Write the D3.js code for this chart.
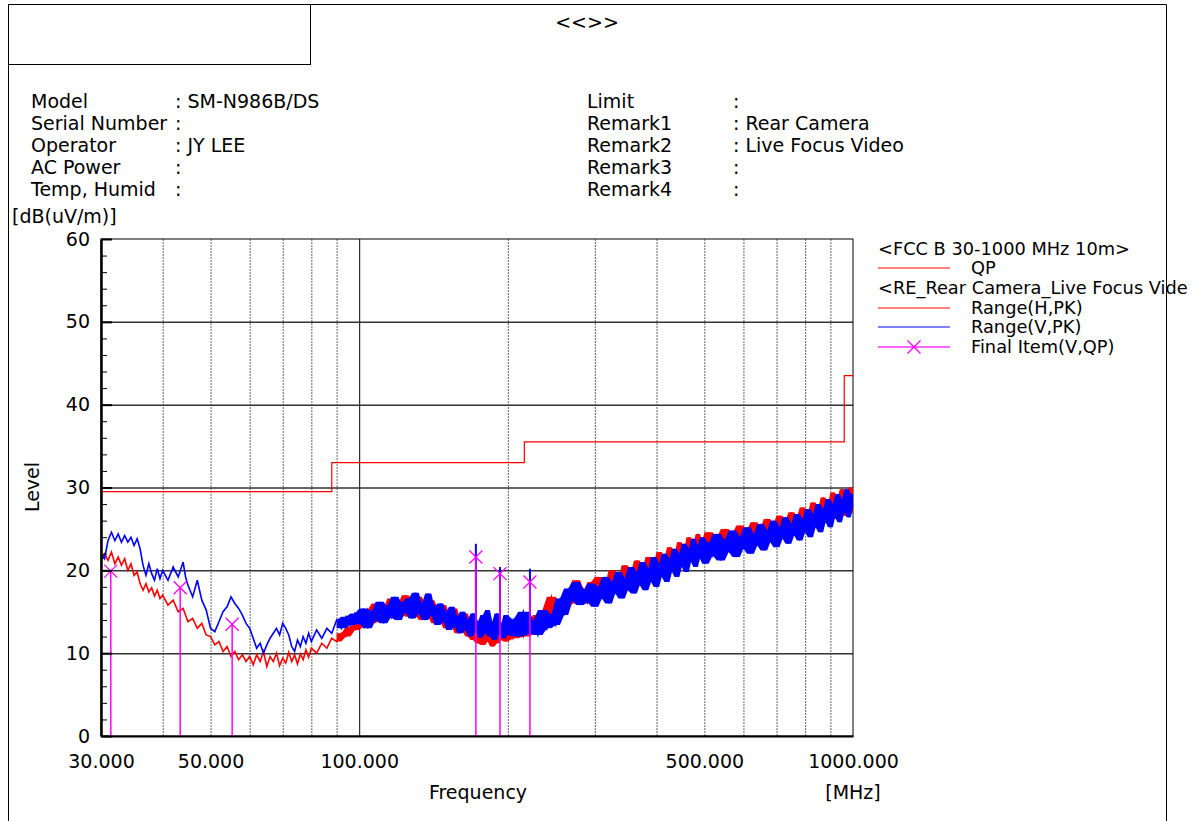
<!DOCTYPE html>
<html>
<head>
<meta charset="utf-8">
<script src="https://cdn.jsdelivr.net/npm/d3@7"></script>
<style>
  body { margin: 0; background: #fff; }
  text { font-family: "DejaVu Sans", sans-serif; fill: #000; }
</style>
</head>
<body>
<div id="chart"></div>
<script>
// ------------------------------------------------------
// Page and plot size
const width = 1204
const height = 821
const plot = { left: 101, right: 853, top: 239, bottom: 736 }

// ------------------------------------------------------
// Header info (left and right columns)
const infoLeftLabels = ['Model', 'Serial Number', 'Operator', 'AC Power', 'Temp, Humid']
const infoLeftValues = ['SM-N986B/DS', '', 'JY LEE', '', '']
const infoRightLabels = ['Limit', 'Remark1', 'Remark2', 'Remark3', 'Remark4']
const infoRightValues = ['', 'Rear Camera', 'Live Focus Video', '', '']

// Axis ticks
const yTicks = [0, 10, 20, 30, 40, 50, 60]
const yMinorTicks = [2, 4, 6, 8, 12, 14, 16, 18, 22, 24, 26, 28, 32, 34, 36, 38, 42, 44, 46, 48, 52, 54, 56, 58]
const xLabelTicks = [30, 50, 100, 500, 1000]
const xGridTicks = [40, 50, 60, 70, 80, 90, 200, 300, 400, 500, 600, 700, 800, 900]

// FCC B QP limit, [MHz, dB(uV/m)] step edges
const limitQP = [[30, 29.5], [88, 33], [216, 35.5], [960, 43.5], [1000, 43.5]]

// Final items (V, QP)
const finalFreq = [31.4, 43.4, 55.3, 172.3, 192.8, 221.7]
const finalLevel = [19.9, 17.9, 13.5, 21.6, 19.6, 18.6]

// Narrow peaks of the V trace at the final item frequencies
const spikesV = [[172.3, 23.2], [192.8, 20.4], [221.7, 20.2]]

// Range (H, PK) trace, [MHz, dB(uV/m)]
const traceH = [
  [30,21],[30.5,22],[31,21.2],[31.5,22.2],[32,20.8],[32.5,21.6],[33,20.6],[33.5,21.4],[34,20],[34.5,20.8],
  [35,19.4],[35.5,19.8],[36,18.4],[36.5,17.6],[37,18.4],[37.5,17.4],[38,17.9],[38.5,16.9],[39,17.6],[39.5,16.6],
  [40,17],[41,15.8],[42,16.4],[43,15],[44,15.4],[45,13.8],[46,14.2],[47,13],[48,13.6],[49,12.2],
  [50,12],[51,11],[52,11.4],[53,10.2],[54,10.8],[55,9.6],[56,10.2],[57,9.2],[58,9.8],[59,9],
  [60,9.6],[61,8.6],[62,9.8],[63,9],[64,10.2],[65,8.4],[66,9.6],[67,9],[68,10],[69,8.5],
  [70,9.4],[71,8.8],[72,10.1],[73,9],[74,9.8],[75,8.7],[76,9.9],[77,9.2],[78,10.4],[79,9.5],
  [80,10.6],[82,10],[84,11.2],[86,10.6],[88,11.8],[90,11.4],[92,12.4],[94,12],[96,13.2],[98,12.8],
  [100,14],[102,13.2],[104,15.2],[106,13.6],[108,16],[110,14],[112,15.4],[114,14.6],[116,16.6],[118,14.2],
  [120,16],[122,14.8],[124,17],[126,14.4],[128,16.2],[130,14.6],[132,16.8],[134,14],[136,15.8],[138,14.4],
  [140,16.4],[142,13.6],[144,15.4],[146,13.8],[148,15.8],[150,13],[152,14.8],[154,13.2],[156,15.4],[158,12.4],
  [160,14.2],[162,12.6],[164,14.8],[166,12],[168,13.8],[170,11.6],[172,13.6],[174,11.2],[176,13.2],[178,11],
  [180,13.8],[182,11.4],[184,13],[186,10.8],[188,13.4],[190,11.2],[192,13.6],[194,11.6],[196,13.2],[198,11.4],
  [200,13.8],[205,11.8],[210,13.4],[215,12],[222,14],[225,12.4],[230,14.6],[235,12.8],[240,15.2],[245,16.8],
  [250,14],[255,16],[260,14.8],[265,17.6],[270,16],[275,18.8],[280,16.4],[285,17.6],[290,16],[295,18.6],
  [300,16.4],[305,19.2],[310,16.8],[315,18.4],[320,17],[325,20],[330,17.2],[335,19],[340,17.6],[345,20.6],
  [350,17.8],[355,19.6],[360,18.2],[365,21.2],[370,18.4],[375,20.2],[380,18.8],[385,21.6],[390,19],[395,20.8],
  [400,19.4],[405,22.2],[410,19.6],[415,21.4],[420,20],[425,22.8],[430,20.2],[435,21.8],[440,20.6],[445,23.4],
  [450,20.8],[455,22.4],[460,21.2],[465,24],[470,21.4],[475,23],[480,21.6],[485,24.4],[490,21.8],[495,23.4],
  [500,22],[510,24.6],[520,22.2],[530,24],[540,22.4],[550,25],[560,22.6],[570,24.4],[580,22.8],[590,25.4],
  [600,23],[610,24.8],[620,23.2],[630,25.8],[640,23.4],[650,25.2],[660,23.6],[670,26.2],[680,23.8],[690,25.6],
  [700,24],[710,26.6],[720,24.2],[730,26],[740,24.4],[750,27],[760,24.6],[770,26.4],[780,24.8],[790,27.6],
  [800,25],[810,26.8],[820,25.2],[830,28.2],[840,25.4],[850,27.4],[860,25.6],[870,28.8],[880,25.8],[890,28],
  [900,26],[910,29.4],[920,26.2],[930,28.6],[940,26.4],[950,29.8],[960,26.6],[970,29.2],[980,26.8],[990,30],
  [1000,27]
]

// Range (V, PK) trace, [MHz, dB(uV/m)]
const traceV = [
  [30,22],[30.5,21.4],[31,23.6],[31.5,24.6],[32,23.6],[32.5,24.4],[33,23.4],[33.5,24.2],[34,23.4],[34.5,24],
  [35,23],[35.5,23.8],[36,22.6],[36.5,20.6],[37,19.4],[37.5,20.8],[38,19.6],[38.5,18.8],[39,20.2],[39.5,19],
  [40,20],[41,18.8],[42,20.4],[43,19.2],[44,21],[44.5,19.2],[45,18.2],[46,16.8],[47,18.8],[48,16.4],
  [49,15.2],[50,13],[51,12.6],[52,13.8],[53,15],[54,15.6],[55,16.8],[56,16],[57,15.4],[58,14.6],
  [59,13.6],[60,13],[61,11.8],[62,10.6],[63,11.2],[64,10],[65,11],[66,11.8],[67,12.4],[68,13],
  [69,12.2],[70,13.6],[71,13],[72,12.2],[73,10.8],[74,10.2],[75,11.6],[76,10.8],[77,12],[78,11.2],
  [79,12.4],[80,11.4],[82,12.8],[84,11.8],[86,13],[88,12.4],[90,14],[92,13],[94,14.4],[96,13.4],
  [98,14.8],[100,13.6],[102,15.4],[104,13],[106,15],[108,14],[110,16.2],[112,13.6],[114,15.6],[116,14.4],
  [118,16.8],[120,14],[122,16],[124,15],[126,16.6],[128,14.2],[130,17.3],[132,14.8],[134,16],[136,14],
  [138,17.2],[140,14.6],[142,15.6],[144,13.4],[146,16],[148,13.8],[150,15],[152,12.8],[154,15.6],[156,13.2],
  [158,14.4],[160,12.4],[162,15],[164,12.8],[166,14],[168,12],[170,14.8],[172,12.6],[174,13.8],[176,11.9],
  [178,14.6],[180,12.4],[182,15.2],[184,12],[186,13.8],[188,11.6],[190,14.8],[192,12.3],[194,13.6],[196,11.8],
  [198,14.6],[200,12.2],[205,14],[210,12],[215,15],[222,12.4],[225,13.8],[230,12.2],[235,15.2],[240,13],
  [245,14.6],[250,13.4],[255,16.6],[260,14.6],[265,17.8],[270,16.4],[275,18.6],[280,15.8],[285,17.6],[290,16.2],
  [295,18.4],[300,15.6],[305,18],[310,16.6],[315,19.2],[320,16],[325,18.6],[330,17.2],[335,19.8],[340,16.6],
  [345,19],[350,17.6],[355,20.4],[360,17.2],[365,19.8],[370,18.2],[375,21],[380,17.6],[385,20.2],[390,18.6],
  [395,21.6],[400,18],[405,20.8],[410,19.2],[415,22],[420,18.6],[425,21.4],[430,19.8],[435,22.6],[440,19.2],
  [445,22],[450,20.4],[455,23.2],[460,19.8],[465,22.6],[470,21],[475,23.8],[480,20.4],[485,23],[490,21.4],
  [495,24],[500,20.8],[510,23.2],[520,21.8],[530,24.4],[540,21.2],[550,23.6],[560,22.2],[570,24.8],[580,21.6],
  [590,24],[600,22.6],[610,25.2],[620,22],[630,24.4],[640,23],[650,25.6],[660,22.4],[670,24.8],[680,23.4],
  [690,26],[700,22.8],[710,25.2],[720,23.8],[730,26.4],[740,23.2],[750,25.6],[760,24.2],[770,26.8],[780,23.6],
  [790,26.2],[800,24.6],[810,27.4],[820,24],[830,26.8],[840,25.2],[850,28],[860,24.6],[870,27.4],[880,25.8],
  [890,28.6],[900,25.2],[910,28],[920,26.4],[930,29.2],[940,25.8],[950,28.6],[960,27],[970,29.8],[980,26.4],
  [990,29.2],[1000,27.6]
]

// Legend entries
const legendItems = [
  { kind: 'title', text: '<FCC B 30-1000 MHz 10m>' },
  { kind: 'line', text: 'QP', color: '#ff0000' },
  { kind: 'title', text: '<RE_Rear Camera_Live Focus Vide' },
  { kind: 'line', text: 'Range(H,PK)', color: '#ff0000' },
  { kind: 'line', text: 'Range(V,PK)', color: '#0000ff' },
  { kind: 'mark', text: 'Final Item(V,QP)', color: '#ff00ff' }
]

// ------------------------------------------------------
// Scales
const x = d3.scaleLog()
  .domain([30, 1000])
  .range([plot.left, plot.right])

const y = d3.scaleLinear()
  .domain([0, 60])
  .range([plot.bottom, plot.top])

const svg = d3.select('#chart')
  .append('svg')
  .attr('width', width)
  .attr('height', height)

// ------------------------------------------------------
// Frame and header
const frame = svg.append('g')
  .attr('fill', 'none')
  .attr('stroke', '#000')
  .attr('stroke-width', 1)

frame.append('path')
  .attr('d', `M8.5,${height + 2} V4.5 H1166.5 V${height + 2}`)
frame.append('rect')
  .attr('x', 8.5).attr('y', 4.5)
  .attr('width', 302).attr('height', 60)

svg.append('text')
  .attr('x', 587).attr('y', 29)
  .attr('text-anchor', 'middle')
  .attr('font-size', 19)
  .text('<<>>')

const rowY = [108, 130, 152, 174, 196]

function infoColumn(labels, values, xLabel, xColon) {
  labels.forEach((label, i) => {
    svg.append('text').attr('x', xLabel).attr('y', rowY[i]).attr('font-size', 19).text(label)
    svg.append('text').attr('x', xColon).attr('y', rowY[i]).attr('font-size', 19)
      .text(':' + (values[i] ? ' ' + values[i] : ''))
  })
}
infoColumn(infoLeftLabels, infoLeftValues, 31, 175)
infoColumn(infoRightLabels, infoRightValues, 587, 733)

// ------------------------------------------------------
// Grid
const grid = svg.append('g')

grid.append('g')
  .attr('transform', `translate(0,${plot.bottom})`)
  .call(d3.axisBottom(x).tickValues(xGridTicks).tickSize(-(plot.bottom - plot.top)).tickFormat(''))
  .call(g => g.select('.domain').remove())
  .selectAll('line')
  .attr('stroke', '#666')
  .attr('stroke-dasharray', '2,1')

grid.append('g')
  .attr('transform', `translate(0,${plot.bottom})`)
  .call(d3.axisBottom(x).tickValues([100]).tickSize(-(plot.bottom - plot.top)).tickFormat(''))
  .call(g => g.select('.domain').remove())
  .selectAll('line')
  .attr('stroke', '#000')

grid.append('g')
  .attr('transform', `translate(${plot.left},0)`)
  .call(d3.axisRight(y).tickValues([10, 20, 30, 40, 50]).tickSize(plot.right - plot.left).tickFormat(''))
  .call(g => g.select('.domain').remove())
  .selectAll('line')
  .attr('stroke', '#333')
  .attr('stroke-width', 1.5)

// Plot border
svg.append('rect')
  .attr('x', plot.left).attr('y', plot.top)
  .attr('width', plot.right - plot.left).attr('height', plot.bottom - plot.top)
  .attr('fill', 'none')
  .attr('stroke', '#000')

// ------------------------------------------------------
// Traces (clipped to the plot)
svg.append('clipPath').attr('id', 'clip')
  .append('rect')
  .attr('x', plot.left).attr('y', plot.top)
  .attr('width', plot.right - plot.left).attr('height', plot.bottom - plot.top)

const area = svg.append('g').attr('clip-path', 'url(#clip)')

const line = d3.line()
  .x(d => x(d[0]))
  .y(d => y(d[1]))

area.append('path')
  .datum(limitQP)
  .attr('d', line.curve(d3.curveStepAfter))
  .attr('fill', 'none')
  .attr('stroke', '#ff0000')
  .attr('stroke-width', 1.2)

line.curve(d3.curveLinear)

// Dense sweep above ~90 MHz: fill between neighbouring peaks and troughs
function neighbours(arr, i) {
  return [arr[Math.max(i - 1, 0)][1], arr[i][1], arr[Math.min(i + 1, arr.length - 1)][1]]
}
const band = d3.area()
  .x(d => x(d[0]))
  .y0((d, i, arr) => y(d3.min(neighbours(arr, i))))
  .y1((d, i, arr) => y(d3.max(neighbours(arr, i))))

function drawTrace(data, color) {
  area.append('path')
    .datum(data.filter(d => d[0] >= 90))
    .attr('d', band)
    .attr('fill', color)
  area.append('path')
    .datum(data)
    .attr('d', line)
    .attr('fill', 'none')
    .attr('stroke', color)
    .attr('stroke-width', 1.6)
}
drawTrace(traceH, '#ff0000')
drawTrace(traceV, '#0000ff')

area.selectAll('.spike')
  .data(spikesV)
  .enter()
  .append('line')
  .attr('class', 'spike')
  .attr('x1', d => x(d[0])).attr('x2', d => x(d[0]))
  .attr('y1', d => y(d[1])).attr('y2', y(13))
  .attr('stroke', '#0000ff')
  .attr('stroke-width', 2)

// Final items: stems and crosses
const finals = finalFreq.map((f, i) => [f, finalLevel[i]])

area.selectAll('.stem')
  .data(finals)
  .enter()
  .append('line')
  .attr('class', 'stem')
  .attr('x1', d => x(d[0])).attr('x2', d => x(d[0]))
  .attr('y1', y(0)).attr('y2', d => y(d[1]))
  .attr('stroke', '#ff00ff')
  .attr('stroke-width', 1.5)

function cross(g, cx, cy, r) {
  g.append('path')
    .attr('d', `M${cx - r},${cy - r}L${cx + r},${cy + r}M${cx - r},${cy + r}L${cx + r},${cy - r}`)
    .attr('stroke', '#ff00ff')
    .attr('stroke-width', 1.3)
    .attr('fill', 'none')
}
finals.forEach(d => cross(area, x(d[0]), y(d[1]), 6.5))

// ------------------------------------------------------
// Axes
const yAxis = svg.append('g')
  .attr('transform', `translate(${plot.left},0)`)
  .call(d3.axisLeft(y).tickValues(yTicks).tickSize(0).tickPadding(11))
yAxis.select('.domain').attr('stroke', '#000').attr('stroke-width', 2.5)
yAxis.selectAll('text').attr('font-size', 19).attr('font-family', 'DejaVu Sans')

svg.append('g')
  .attr('transform', `translate(${plot.left},0)`)
  .call(d3.axisRight(y).tickValues(yMinorTicks).tickSize(6).tickFormat(''))
  .call(g => g.select('.domain').remove())
  .selectAll('line').attr('stroke', '#000')

svg.append('g')
  .attr('transform', `translate(${plot.left},0)`)
  .call(d3.axisRight(y).tickValues(yTicks).tickSize(11).tickFormat(''))
  .call(g => g.select('.domain').remove())
  .selectAll('line').attr('stroke', '#000').attr('stroke-width', 2)

const xAxis = svg.append('g')
  .attr('transform', `translate(0,${plot.bottom})`)
  .call(d3.axisBottom(x).tickValues(xLabelTicks).tickFormat(d3.format('.3f')).tickSize(0).tickPadding(19))
xAxis.select('.domain').attr('stroke', '#000').attr('stroke-width', 2)
xAxis.selectAll('text').attr('font-size', 19).attr('font-family', 'DejaVu Sans')

svg.append('text')
  .attr('x', 12).attr('y', 223)
  .attr('font-size', 19)
  .text('[dB(uV/m)]')

svg.append('text')
  .attr('transform', 'translate(39,487) rotate(-90)')
  .attr('text-anchor', 'middle')
  .attr('font-size', 19)
  .text('Level')

svg.append('text')
  .attr('x', 478).attr('y', 799)
  .attr('text-anchor', 'middle')
  .attr('font-size', 19)
  .text('Frequency')

svg.append('text')
  .attr('x', 853).attr('y', 799)
  .attr('text-anchor', 'middle')
  .attr('font-size', 19)
  .text('[MHz]')

// ------------------------------------------------------
// Legend
const legendY = [249, 268, 288, 308, 327, 347]
const legend = svg.append('g')

legendItems.forEach((item, i) => {
  const ly = legendY[i]
  if (item.kind === 'title') {
    legend.append('text')
      .attr('x', 878).attr('y', ly + 6)
      .attr('font-size', 17.8)
      .text(item.text)
    return
  }
  legend.append('line')
    .attr('x1', 878).attr('x2', 950)
    .attr('y1', ly).attr('y2', ly)
    .attr('stroke', item.kind === 'mark' ? '#ff66ff' : item.color)
    .attr('stroke-width', item.kind === 'mark' ? 2 : 1.2)
  if (item.kind === 'mark') cross(legend, 914, ly, 6.5)
  legend.append('text')
    .attr('x', 971).attr('y', ly + 6)
    .attr('font-size', 17.8)
    .text(item.text)
})
</script>
</body>
</html>
